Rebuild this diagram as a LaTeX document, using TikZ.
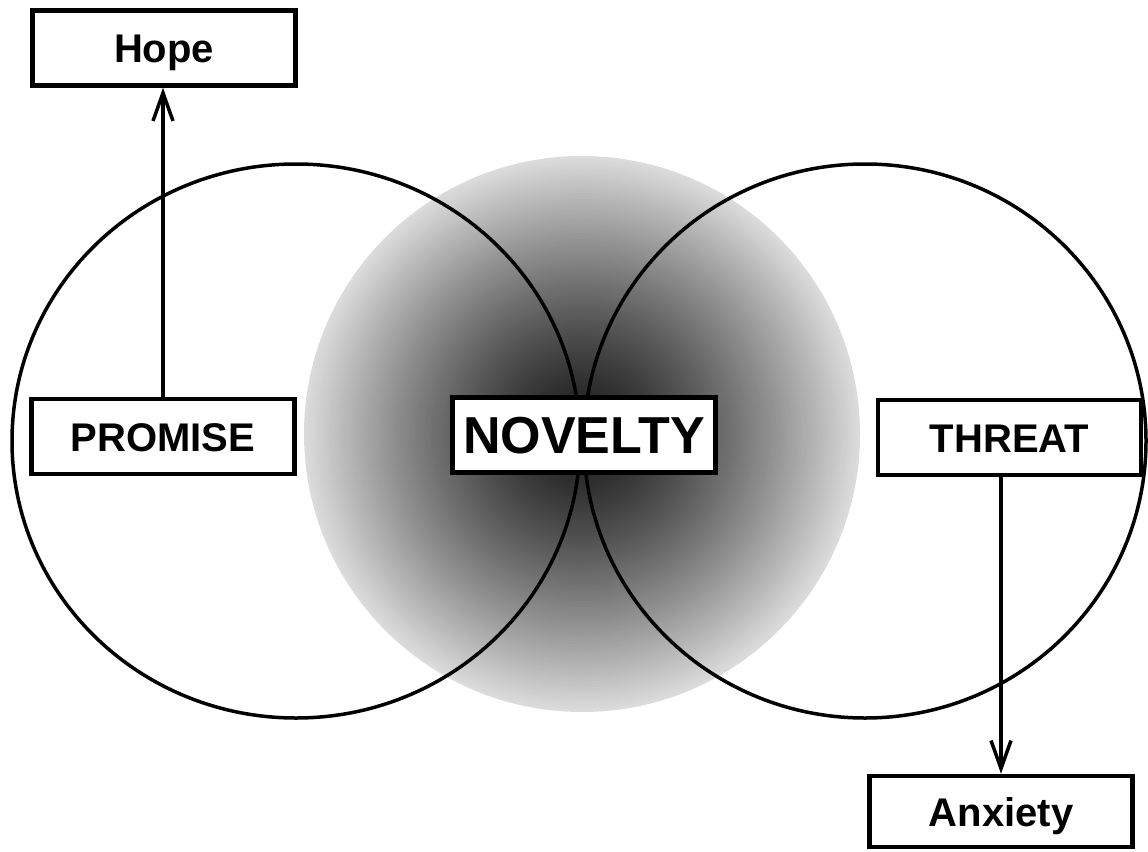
\documentclass[tikz,border=0pt]{standalone}
\usepackage{fontspec}
\setmainfont{Liberation Sans}
\usetikzlibrary{arrows.meta}
\tikzset{
  labelbox/.style={draw, line width=4.5pt, fill=white, minimum width=263pt,
    minimum height=75pt, inner sep=0pt, text height=29pt, text depth=0pt,
    font=\fontsize{40}{48}\selectfont\bfseries},
  bigbox/.style={labelbox, text height=37pt, font=\fontsize{52}{60}\selectfont\bfseries},
  ring/.style={draw, line width=3.5pt},
  link/.style={line width=3.5pt, -{Straight Barb[length=28pt,width=20pt]}}
}
\begin{document}
\begin{tikzpicture}[x=1pt,y=-1pt]
\useasboundingbox (0,0) rectangle (1148,851);
% shaded central disc, drawn as concentric rings
\foreach \i in {0,...,89}{
  \pgfmathsetmacro\f{1-\i/90}
  \pgfmathsetmacro\g{0.10+0.76*(\f)^1.3}
  \definecolor{ringgray}{gray}{\g}
  \fill[ringgray] (582,434) circle ({278*\f});
}
% two outline circles
\draw[ring] (296,441) ellipse [x radius=284, y radius=277];
\draw[ring] (865,441) ellipse [x radius=281, y radius=277];
% boxes
\node[labelbox] (hope) at (164,48) {Hope};
\node[labelbox] (promise) at (163,436.5) {PROMISE};
\node[bigbox] (novelty) at (584,435) {NOVELTY};
\node[labelbox] (threat) at (1009.5,437.5) {THREAT};
\node[labelbox, minimum height=71pt] (anxiety) at (1001,811.5) {Anxiety};
% connectors
\draw[link] (promise.north) -- (promise.north |- hope.south);
\draw[link] (anxiety.north |- threat.south) -- (anxiety.north);
\end{tikzpicture}
\end{document}
